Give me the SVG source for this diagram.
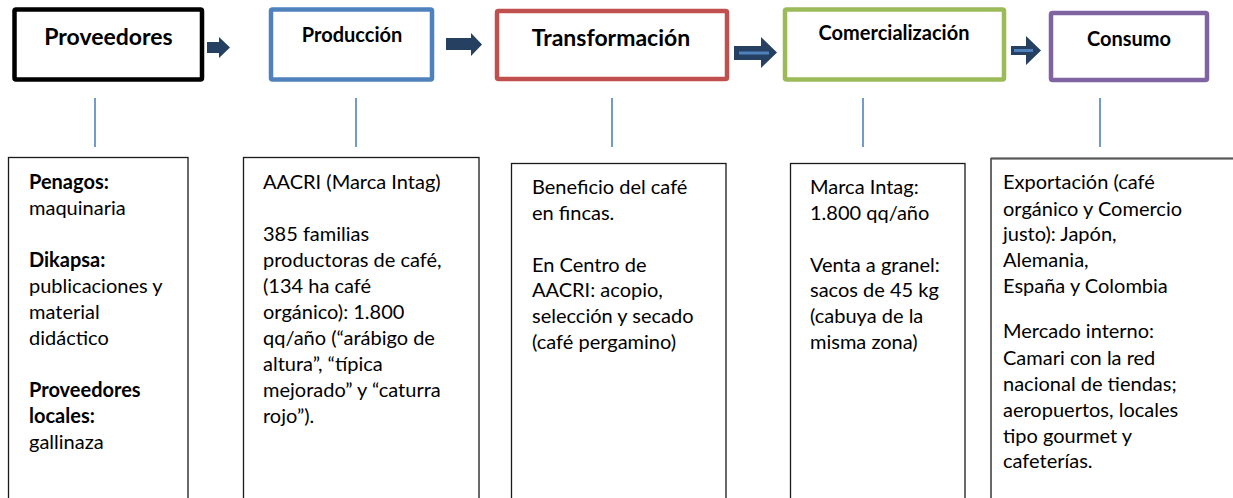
<svg xmlns="http://www.w3.org/2000/svg" width="1233" height="498" viewBox="0 0 1233 498">
<style>
.top{fill:#fff;stroke-width:4.5}
.ttl{font-family:Lato,"Liberation Sans",sans-serif;font-weight:bold;fill:#000;text-anchor:middle}
.box{fill:#fff;stroke:#1a1a1a;stroke-width:1.3}
.txt{font-family:Lato,"Liberation Sans",sans-serif;font-size:20px;fill:#000}
.b{font-weight:bold}
.vl{stroke:#4f81bd;stroke-width:1.6}
.arr{fill:#254061}
.inner{stroke:#4f81bd;stroke-width:3}
</style>
<rect width="1233" height="498" fill="#fff"/>
<g id="connectors">
<polygon class="arr" points="207,42 219,42 219,37 230,47.5 219,58 219,53 207,53"/>
<polygon class="arr" points="446,38 471,38 471,33 482,44.5 471,56 471,50 446,50"/>
<polygon class="arr" points="734,46 761,46 761,37 777,52.5 761,68 761,60 734,60"/>
<line class="inner" x1="739" y1="53" x2="769" y2="53"/>
<polygon class="arr" points="1011,46 1026,46 1026,36 1041,50.5 1026,65 1026,55 1011,55"/>
<line class="inner" x1="1014" y1="50.5" x2="1033" y2="50.5"/>
<line class="vl" x1="95" y1="98" x2="95" y2="147"/>
<line class="vl" x1="356" y1="98" x2="356" y2="147"/>
<line class="vl" x1="612" y1="98" x2="612" y2="147"/>
<line class="vl" x1="863" y1="98" x2="863" y2="147"/>
<line class="vl" x1="1100" y1="98" x2="1100" y2="147"/>
</g>
<g id="proveedores">
<rect class="top" x="14.5" y="9.5" width="187.5" height="70" rx="1.5" stroke="#000"/>
<text class="ttl" x="108.5" y="45" font-size="23">Proveedores</text>
</g>
<g id="produccion">
<rect class="top" x="271" y="9.5" width="161" height="70" rx="1.5" stroke="#4f81bd" stroke-width="4"/>
<text class="ttl" x="352" y="42" font-size="20">Producción</text>
</g>
<g id="transformacion">
<rect class="top" x="497" y="11" width="230" height="68" rx="1.5" stroke="#c0504d" stroke-width="4"/>
<text class="ttl" x="611" y="46" font-size="23">Transformación</text>
</g>
<g id="comercializacion">
<rect class="top" x="785" y="9.5" width="219" height="70" rx="1.5" stroke="#9bbb59" stroke-width="4"/>
<text class="ttl" x="894" y="40" font-size="20">Comercialización</text>
</g>
<g id="consumo">
<rect class="top" x="1051" y="13" width="156" height="67" rx="1.5" stroke="#8064a2" stroke-width="4"/>
<text class="ttl" x="1129" y="46" font-size="20">Consumo</text>
</g>
<g id="detalle-proveedores">
<rect class="box" x="8.5" y="157.5" width="179.5" height="345"/>
<text class="txt">
<tspan x="29" y="189" class="b">Penagos:</tspan>
<tspan x="29" y="215">maquinaria</tspan>
<tspan x="29" y="267" class="b">Dikapsa:</tspan>
<tspan x="29" y="293">publicaciones y</tspan>
<tspan x="29" y="319">material</tspan>
<tspan x="29" y="345">didáctico</tspan>
<tspan x="29" y="397" class="b">Proveedores</tspan>
<tspan x="29" y="423" class="b">locales:</tspan>
<tspan x="29" y="449">gallinaza</tspan>
</text>
</g>
<g id="detalle-produccion">
<rect class="box" x="243.5" y="157.5" width="235.5" height="345"/>
<text class="txt">
<tspan x="263" y="189">AACRI (Marca Intag)</tspan>
<tspan x="263" y="241">385 familias</tspan>
<tspan x="263" y="267">productoras de café,</tspan>
<tspan x="263" y="293">(134 ha café</tspan>
<tspan x="263" y="319">orgánico): 1.800</tspan>
<tspan x="263" y="345">qq/año (“arábigo de</tspan>
<tspan x="263" y="371">altura”, “típica</tspan>
<tspan x="263" y="397">mejorado” y “caturra</tspan>
<tspan x="263" y="423">rojo”).</tspan>
</text>
</g>
<g id="detalle-transformacion">
<rect class="box" x="511.5" y="163.5" width="214.5" height="340"/>
<text class="txt">
<tspan x="532" y="194">Beneficio del café</tspan>
<tspan x="532" y="220">en fincas.</tspan>
<tspan x="532" y="272">En Centro de</tspan>
<tspan x="532" y="297">AACRI: acopio,</tspan>
<tspan x="532" y="323">selección y secado</tspan>
<tspan x="532" y="349">(café pergamino)</tspan>
</text>
</g>
<g id="detalle-comercializacion">
<rect class="box" x="790.5" y="163.5" width="174.5" height="340"/>
<text class="txt">
<tspan x="810" y="194">Marca Intag:</tspan>
<tspan x="810" y="220">1.800 qq/año</tspan>
<tspan x="810" y="272">Venta a granel:</tspan>
<tspan x="810" y="297">sacos de 45 kg</tspan>
<tspan x="810" y="323">(cabuya de la</tspan>
<tspan x="810" y="349">misma zona)</tspan>
</text>
</g>
<g id="detalle-consumo">
<rect class="box" x="991" y="158.5" width="260" height="345" stroke="#4d4d4d" stroke-width="1.5"/>
<line x1="991" y1="158.5" x2="1233" y2="158.5" stroke="#595959" stroke-width="2.2"/>
<text class="txt">
<tspan x="1003" y="189">Exportación (café</tspan>
<tspan x="1003" y="216">orgánico y Comercio</tspan>
<tspan x="1003" y="241">justo): Japón,</tspan>
<tspan x="1003" y="267">Alemania,</tspan>
<tspan x="1003" y="293">España y Colombia</tspan>
<tspan x="1003" y="338">Mercado interno:</tspan>
<tspan x="1003" y="365">Camari con la red</tspan>
<tspan x="1003" y="391">nacional de tiendas;</tspan>
<tspan x="1003" y="417">aeropuertos, locales</tspan>
<tspan x="1003" y="443">tipo gourmet y</tspan>
<tspan x="1003" y="468">cafeterías.</tspan>
</text>
</g>
</svg>
